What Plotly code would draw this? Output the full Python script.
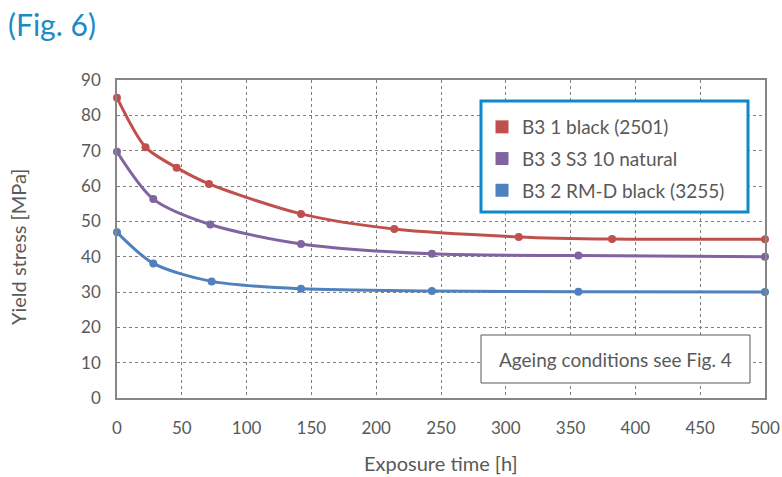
import plotly.graph_objects as go

# ---- data ----
names = ["B3 1 black (2501)", "B3 3 S3 10 natural", "B3 2 RM-D black (3255)"]
colors = ["#C0504D", "#8064A2", "#4F81BD"]

red_x = [0, 22, 46, 71, 142, 214, 310, 382, 500]
red_y = [85, 71, 65.2, 60.6, 52.1, 47.8, 45.6, 45.0, 44.9]

purple_x = [0, 28, 72, 142, 243, 356, 500]
purple_y = [69.7, 56.3, 49.1, 43.6, 40.8, 40.3, 40.0]

blue_x = [0, 28, 73, 142, 243, 356, 500]
blue_y = [46.9, 38.1, 33.0, 30.9, 30.3, 30.1, 30.0]

x_ticks = [0, 50, 100, 150, 200, 250, 300, 350, 400, 450, 500]
y_ticks = [0, 10, 20, 30, 40, 50, 60, 70, 80, 90]

FONT = "Lato"
TXT = "#595959"

fig = go.Figure()
series = [(red_x, red_y), (purple_x, purple_y), (blue_x, blue_y)]
for (xs, ys), nm, c in zip(series, names, colors):
    fig.add_trace(go.Scatter(x=xs, y=ys, mode="lines+markers", name=nm,
                             line=dict(color=c, width=3, shape="spline", smoothing=0.8),
                             marker=dict(color=c, size=8),
                             showlegend=False, cliponaxis=False))
for i, (nm, c) in enumerate(zip(names, colors)):
    fig.add_trace(go.Scatter(x=[None], y=[None], mode="markers", name=nm,
                             legendgroup=str(i),
                             marker=dict(color=c, size=13, symbol="square")))

def px_x(p):
    return (p - 117) / 648

def px_y(p):
    return (398 - p) / 318

# legend box
fig.add_shape(type="rect", xref="paper", yref="paper",
              x0=px_x(481), x1=px_x(748), y0=px_y(212), y1=px_y(101),
              line=dict(color="#0E88C9", width=3), fillcolor="white", layer="above")
# annotation box
fig.add_shape(type="rect", xref="paper", yref="paper",
              x0=px_x(481), x1=px_x(750), y0=px_y(383), y1=px_y(335),
              line=dict(color="#595959", width=1), fillcolor="white", layer="above")
fig.add_annotation(text="Ageing conditions see Fig. 4", xref="paper", yref="paper",
                   x=px_x(615), y=px_y(359), xanchor="center", yanchor="middle",
                   showarrow=False,
                   font=dict(family=FONT, size=19, color=TXT))
# axis titles
fig.add_annotation(text="Exposure time [h]", xref="paper", yref="paper",
                   x=px_x(441), y=px_y(463), xanchor="center", yanchor="middle",
                   showarrow=False, font=dict(family=FONT, size=20, color=TXT))
fig.add_annotation(text="Yield stress [MPa]", xref="paper", yref="paper",
                   x=px_x(18), y=px_y(247), xanchor="center", yanchor="middle",
                   textangle=-90, showarrow=False,
                   font=dict(family=FONT, size=20, color=TXT))

fig.update_layout(
    width=782, height=477,
    margin=dict(l=117, r=17, t=80, b=79, autoexpand=False),
    paper_bgcolor="white", plot_bgcolor="white",
    font=dict(family=FONT, size=17, color=TXT),
    title=dict(text="(Fig. 6)", x=8/782, xref="container", xanchor="left",
               y=1 - 25/477, yref="container", yanchor="middle",
               font=dict(family=FONT, size=30, color="#1B8BC8")),
    legend=dict(x=px_x(482), y=px_y(108), xanchor="left", yanchor="top",
                bgcolor="rgba(0,0,0,0)", borderwidth=0,
                traceorder="grouped", tracegroupgap=4,
                font=dict(family=FONT, size=19, color=TXT)),
    showlegend=True,
)
fig.update_xaxes(range=[0, 500], tickvals=x_ticks, showgrid=True, automargin=False,
                 gridcolor="#7F7F7F", griddash="dot", gridwidth=1,
                 showline=True, linecolor="#868686", linewidth=1.5, mirror=True,
                 ticks="", ticklabelstandoff=14, zeroline=False,
                 tickfont=dict(family=FONT, size=17, color=TXT))
fig.update_yaxes(range=[0, 90], tickvals=y_ticks, showgrid=True, automargin=False,
                 gridcolor="#7F7F7F", griddash="dot", gridwidth=1,
                 showline=True, linecolor="#868686", linewidth=1.5, mirror=True,
                 ticks="", ticklabelstandoff=11, zeroline=False,
                 tickfont=dict(family=FONT, size=17, color=TXT))

fig.write_html("out.html")
